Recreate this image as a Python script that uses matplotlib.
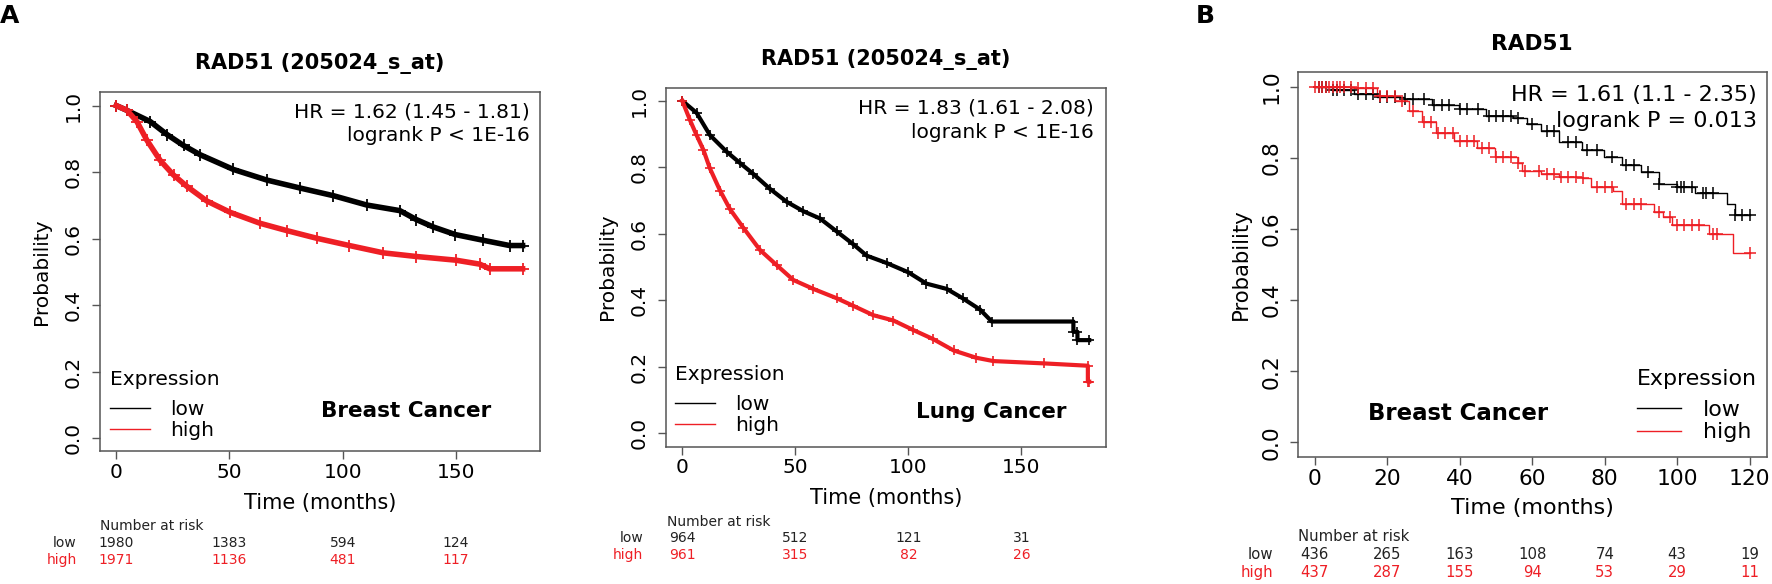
import numpy as np
import matplotlib.pyplot as plt
from matplotlib.lines import Line2D
from matplotlib import transforms

RED = "#ee1f25"
W, H = 1772, 584
plt.rcParams["font.family"] = "DejaVu Sans"

# ---- Panel A1: breast cancer (205024_s_at) ----
a1_low_t = [0, 4.6, 15, 22.4, 29.7, 37.1, 51.7, 66.5, 81.2, 95.9, 110.6, 125.3, 132.6, 140, 149.8, 162, 173.8, 179.5]
a1_low_s = [1.0, 0.986, 0.952, 0.913, 0.880, 0.852, 0.808, 0.776, 0.752, 0.729, 0.701, 0.684, 0.657, 0.635, 0.612, 0.595, 0.579, 0.579]
a1_high_t = [0, 4.7, 9.1, 13.5, 19.4, 25.3, 31.2, 40, 50.3, 63.5, 75.3, 88.5, 103, 118, 132.6, 150, 160.6, 165, 179.5]
a1_high_s = [1.0, 0.986, 0.952, 0.896, 0.835, 0.791, 0.757, 0.713, 0.679, 0.646, 0.624, 0.601, 0.579, 0.557, 0.546, 0.535, 0.523, 0.509, 0.509]
a1_risk_t = [0, 50, 100, 150]
a1_risk_low = [1980, 1383, 594, 124]
a1_risk_high = [1971, 1136, 481, 117]

# ---- Panel A2: lung cancer ----
a2_low_t = [0, 6.3, 12.2, 19.6, 25.5, 31.4, 38.8, 46.2, 53.5, 60.9, 68.3, 75.7, 81.6, 90.4, 100, 108, 117, 124, 131.7, 136.9, 173, 173, 174.8, 174.8, 180]
a2_low_s = [1.0, 0.964, 0.897, 0.847, 0.813, 0.780, 0.735, 0.696, 0.668, 0.646, 0.607, 0.568, 0.534, 0.512, 0.484, 0.450, 0.434, 0.406, 0.372, 0.336, 0.336, 0.305, 0.305, 0.280, 0.280]
a2_high_t = [0, 3.4, 6.3, 9.3, 12.2, 16.7, 21.1, 27, 34.4, 41.7, 49.1, 58, 68.3, 75.7, 84.5, 93.4, 102, 111, 120, 130, 137.6, 160, 179.4, 179.4, 180]
a2_high_s = [1.0, 0.942, 0.897, 0.853, 0.797, 0.730, 0.674, 0.618, 0.551, 0.506, 0.461, 0.434, 0.406, 0.383, 0.355, 0.339, 0.311, 0.283, 0.249, 0.227, 0.217, 0.210, 0.203, 0.155, 0.155]
a2_risk_t = [0, 50, 100, 150]
a2_risk_low = [964, 512, 121, 31]
a2_risk_high = [961, 315, 82, 26]

# ---- Panel B: breast cancer (RAD51) ----
b_low_t = [0, 5, 10.9, 17.2, 24.7, 32.2, 39.7, 47.3, 54.8, 58.6, 62.3, 67.3, 73.6, 79.9, 84.9, 89.9, 94.9, 99.9, 105, 113.7, 116, 120]
b_low_s = [1.0, 0.99, 0.979, 0.972, 0.965, 0.948, 0.937, 0.916, 0.911, 0.895, 0.874, 0.843, 0.822, 0.801, 0.780, 0.759, 0.727, 0.717, 0.701, 0.669, 0.638, 0.638]
b_high_t = [0, 8, 10.9, 17.2, 22.2, 26, 29.7, 33.5, 38.5, 44.8, 49.8, 56, 57.3, 62.3, 67.3, 73.6, 76.1, 82.4, 84.9, 93.7, 96.2, 98.7, 108.7, 115.5, 120]
b_high_s = [1.0, 1.0, 0.995, 0.974, 0.958, 0.932, 0.900, 0.869, 0.848, 0.827, 0.801, 0.785, 0.764, 0.753, 0.745, 0.743, 0.717, 0.706, 0.669, 0.648, 0.633, 0.612, 0.586, 0.533, 0.533]
b_low_cens = [1, 2, 3, 5, 6, 8, 10, 12, 14, 16, 18, 20, 22, 25, 27, 30, 33, 35, 37, 40, 42, 45, 48, 50, 52, 54, 56, 60,
              64, 66, 70, 72, 75, 78, 82, 86, 88, 92, 95, 100, 101, 102, 104, 107, 108, 110, 116, 118, 120]
b_high_cens = [0, 1, 2, 3, 4, 5, 6, 7, 8, 10, 12, 14, 16, 18, 20, 22, 24, 27, 30, 32, 34, 36, 38, 40, 42, 44, 46, 48, 50,
               52, 54, 56, 58, 62, 64, 66, 68, 70, 72, 74, 78, 80, 82, 86, 88, 90, 95, 98, 100, 102, 104, 106, 110, 111, 120]
b_risk_t = [0, 20, 40, 60, 80, 100, 120]
b_risk_low = [436, 265, 163, 108, 74, 43, 19]
b_risk_high = [437, 287, 155, 94, 53, 29, 11]

fig = plt.figure(figsize=(W / 100, H / 100), dpi=100)


def fx(px):
    return px / W


def fy(py):
    return 1 - py / H


def make_axes(left, top, right, bottom):
    return fig.add_axes([fx(left), fy(bottom), (right - left) / W, (bottom - top) / H])


def style_axes(ax, xlim, xticks, fs, ypad):
    ax.set_xlim(*xlim)
    ax.set_ylim(-0.04, 1.04)
    ax.set_xticks(xticks)
    ax.set_yticks([0, 0.2, 0.4, 0.6, 0.8, 1.0])
    ax.set_yticklabels(["0.0", "0.2", "0.4", "0.6", "0.8", "1.0"], rotation=90, va="center")
    ax.tick_params(length=5.5, width=1, color="#555555", labelsize=fs)
    ax.tick_params(axis="x", pad=3)
    ax.tick_params(axis="y", pad=ypad)
    for sp in ax.spines.values():
        sp.set_color("#555555")
        sp.set_linewidth(1.1)


def risk_table(ax, ts, low, high, x0, y0, y1, y2, label_x, fs):
    tr = transforms.blended_transform_factory(ax.transData, fig.transFigure)
    fig.text(fx(x0), fy(y0), "Number at risk", fontsize=fs, va="center", color="#222222")
    fig.text(fx(label_x), fy(y1), "low", fontsize=fs, ha="right", va="center", color="#222222")
    fig.text(fx(label_x), fy(y2), "high", fontsize=fs, ha="right", va="center", color=RED)
    for t, n1, n2 in zip(ts, low, high):
        ax.text(t, fy(y1), str(n1), transform=tr, fontsize=fs, ha="center", va="center", color="#222222")
        ax.text(t, fy(y2), str(n2), transform=tr, fontsize=fs, ha="center", va="center", color=RED)


def hr_text(lines, right, y_first, y_second, fs):
    fig.text(fx(right), fy(y_first), lines[0], fontsize=fs, ha="right", va="center")
    fig.text(fx(right), fy(y_second), lines[1], fontsize=fs, ha="right", va="center")


def legend(ax, loc, x, y, fs, sep):
    handles = [Line2D([], [], color="black", lw=1), Line2D([], [], color=RED, lw=1)]
    lg = ax.legend(handles, ["low", "high"], title="Expression", loc=loc, frameon=False,
                   bbox_to_anchor=(fx(x), fy(y)), bbox_transform=fig.transFigure,
                   fontsize=fs, title_fontsize=fs, handlelength=2.0, handletextpad=1.0,
                   labelspacing=0.1, borderaxespad=0, borderpad=0, alignment="left")
    lg._legend_box.sep = sep
    return lg


# ---------- A1 ----------
ax1 = make_axes(100, 92.3, 540, 451.3)
ax1.plot(a1_low_t, a1_low_s, color="black", lw=4, marker="+", ms=8, mew=1.3)
ax1.plot(a1_high_t, a1_high_s, color=RED, lw=4, marker="+", ms=8, mew=1.3)
style_axes(ax1, (-7.2, 187.2), [0, 50, 100, 150], 14.5, 7)
ax1.set_title("RAD51 (205024_s_at)", fontsize=15, fontweight="bold", pad=17)
ax1.set_xlabel("Time (months)", fontsize=15, labelpad=8)
ax1.set_ylabel("Probability", fontsize=14.5, labelpad=9)
hr_text(["HR = 1.62 (1.45 - 1.81)", "logrank P < 1E-16"], 530, 112.3, 135.7, 14.5)
fig.text(fx(406), fy(410.7), "Breast Cancer", fontsize=15.5, fontweight="bold", ha="center", va="center")
legend(ax1, "upper left", 110, 370, 14.5, 8)
risk_table(ax1, a1_risk_t, a1_risk_low, a1_risk_high, 100, 526.3, 543, 559.7, 77, 10)

# ---------- A2 ----------
ax2 = make_axes(666, 87.5, 1105.5, 446.5)
ax2.plot(a2_low_t, a2_low_s, color="black", lw=3, marker="+", ms=7, mew=1.2)
ax2.plot(a2_high_t, a2_high_s, color=RED, lw=3, marker="+", ms=7, mew=1.2)
style_axes(ax2, (-7.2, 187.2), [0, 50, 100, 150], 14.5, 7)
ax2.set_title("RAD51 (205024_s_at)", fontsize=15, fontweight="bold", pad=16.5)
ax2.set_xlabel("Time (months)", fontsize=15, labelpad=8)
ax2.set_ylabel("Probability", fontsize=14.5, labelpad=9)
hr_text(["HR = 1.83 (1.61 - 2.08)", "logrank P < 1E-16"], 1094, 108, 132, 14.5)
fig.text(fx(990.8), fy(411.7), "Lung Cancer", fontsize=15.5, fontweight="bold", ha="center", va="center")
legend(ax2, "upper left", 675, 365, 14.5, 8)
risk_table(ax2, a2_risk_t, a2_risk_low, a2_risk_high, 666.7, 521.5, 538.3, 555, 643.3, 10)

# ---------- B ----------
ax3 = make_axes(1297.5, 72.3, 1767, 456.7)
ax3.step(b_low_t, b_low_s, where="post", color="black", lw=1)
ax3.step(b_high_t, b_high_s, where="post", color=RED, lw=1)
# censor marks sit on the curves
low_idx = np.searchsorted(b_low_t, b_low_cens, side="right") - 1
high_idx = np.searchsorted(b_high_t, b_high_cens, side="right") - 1
ax3.plot(b_low_cens, np.array(b_low_s)[low_idx], ls="none", marker="+", ms=9, mew=1.1, color="black")
ax3.plot(b_high_cens, np.array(b_high_s)[high_idx], ls="none", marker="+", ms=9, mew=1.1, color=RED)
style_axes(ax3, (-4.8, 124.8), [0, 20, 40, 60, 80, 100, 120], 15.7, 6)
ax3.set_title("RAD51", fontsize=15.6, fontweight="bold", pad=16)
ax3.set_xlabel("Time (months)", fontsize=16, labelpad=7)
ax3.set_ylabel("Probability", fontsize=15.3, labelpad=8)
hr_text(["HR = 1.61 (1.1 - 2.35)", "logrank P = 0.013"], 1757, 94.7, 120.7, 16)
fig.text(fx(1458), fy(414), "Breast Cancer", fontsize=16.4, fontweight="bold", ha="center", va="center")
legend(ax3, "upper right", 1757, 369, 15.9, 8)
risk_table(ax3, b_risk_t, b_risk_low, b_risk_high, 1298.3, 536.7, 554.7, 572.3, 1273.3, 10.7)

# panel letters
fig.text(fx(0), fy(16), "A", fontsize=18, fontweight="bold", va="center")
fig.text(fx(1196), fy(16), "B", fontsize=18, fontweight="bold", va="center")

fig.savefig("out.png", dpi=100)
